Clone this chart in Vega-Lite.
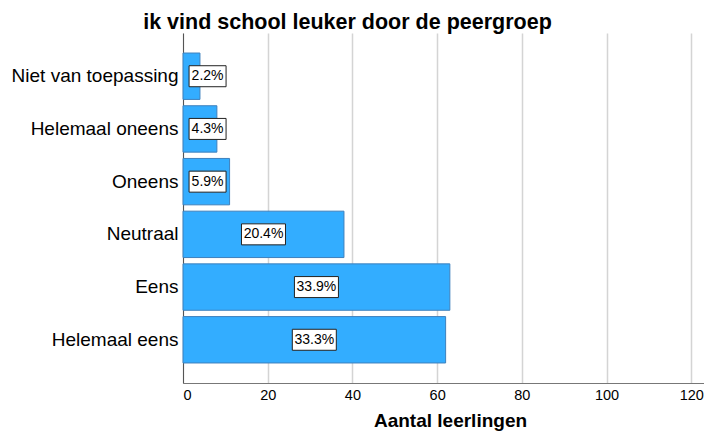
{
  "$schema": "https://vega.github.io/schema/vega-lite/v6.json",
  "width": 521,
  "height": 350,
  "autosize": {"type": "none"},
  "padding": {"left": 183, "top": 33, "right": 0, "bottom": 51},
  "config": {"font": "Liberation Sans", "view": {"stroke": null}},
  "title": {
    "text": "ik vind school leuker door de peergroep",
    "fontSize": 21.5,
    "fontWeight": "bold",
    "color": "#000000",
    "anchor": "middle",
    "dx": -96,
    "offset": 0
  },
  "data": {
    "values": [
      {"cat": "Niet van toepassing", "n": 4, "label": "2.2%"},
      {"cat": "Helemaal oneens", "n": 8, "label": "4.3%"},
      {"cat": "Oneens", "n": 11, "label": "5.9%"},
      {"cat": "Neutraal", "n": 38, "label": "20.4%"},
      {"cat": "Eens", "n": 63, "label": "33.9%"},
      {"cat": "Helemaal eens", "n": 62, "label": "33.3%"}
    ]
  },
  "transform": [{"calculate": "max(datum.n / 2, 5.8)", "as": "lx"}],
  "encoding": {
    "y": {
      "field": "cat",
      "type": "nominal",
      "sort": ["Niet van toepassing", "Helemaal oneens", "Oneens", "Neutraal", "Eens", "Helemaal eens"],
      "scale": {"paddingInner": 0.12, "paddingOuter": 0.38},
      "axis": {
        "title": null,
        "ticks": false,
        "grid": false,
        "labelFontSize": 19,
        "labelColor": "#000000",
        "labelPadding": 5,
        "domainColor": "#555555",
        "domainWidth": 1
      }
    }
  },
  "layer": [
    {
      "mark": {"type": "bar", "fill": "#33adff", "stroke": "#3d80bd", "strokeWidth": 1},
      "encoding": {
        "x": {
          "field": "n",
          "type": "quantitative",
          "scale": {"domain": [0, 123], "nice": false},
          "axis": {
            "title": "Aantal leerlingen",
            "titleFontSize": 19,
            "titleFontWeight": "bold",
            "titleColor": "#000000",
            "titlePadding": 10,
            "titleX": 267,
            "values": [0, 20, 40, 60, 80, 100, 120],
            "ticks": false,
            "labelFontSize": 14.5,
            "labelColor": "#000000",
            "labelPadding": 5,
            "grid": true,
            "gridColor": "#d4d4d4",
            "gridWidth": 1.5,
            "domainColor": "#777777",
            "domainWidth": 1
          }
        }
      }
    },
    {
      "transform": [{"filter": "datum.n < 20"}],
      "mark": {"type": "bar", "fill": "#ffffff", "stroke": "#222222", "strokeWidth": 1, "height": 21, "xOffset": -18.5, "x2Offset": 18.5},
      "encoding": {
        "x": {"field": "lx", "type": "quantitative"},
        "x2": {"field": "lx"}
      }
    },
    {
      "transform": [{"filter": "datum.n >= 20"}],
      "mark": {"type": "bar", "fill": "#ffffff", "stroke": "#222222", "strokeWidth": 1, "height": 21, "xOffset": -22, "x2Offset": 22},
      "encoding": {
        "x": {"field": "lx", "type": "quantitative"},
        "x2": {"field": "lx"}
      }
    },
    {
      "mark": {"type": "text", "fontSize": 14, "color": "#000000", "align": "center", "baseline": "middle"},
      "encoding": {
        "x": {"field": "lx", "type": "quantitative"},
        "text": {"field": "label"}
      }
    }
  ]
}
